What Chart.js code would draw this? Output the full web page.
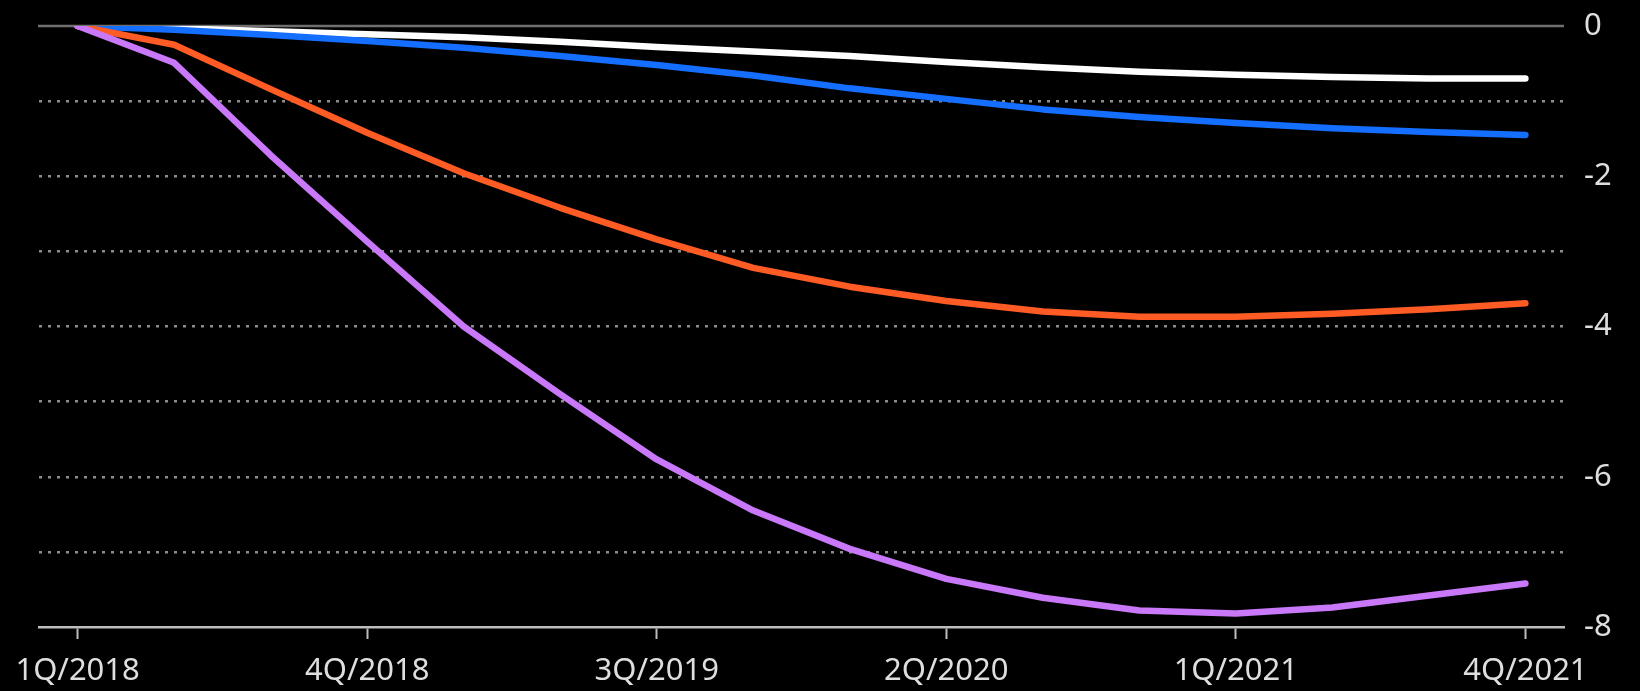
<!DOCTYPE html>
<html>
<head>
<meta charset="utf-8">
<script src="https://cdn.jsdelivr.net/npm/chart.js@4/dist/chart.umd.min.js"></script>
<style>
  html, body { margin: 0; padding: 0; background: #000; overflow: hidden; }
  #wrap { width: 1640px; height: 691px; }
</style>
</head>
<body>
<div id="wrap"><canvas id="c" width="1640" height="691"></canvas></div>
<script>
// Quarters on the horizontal axis
const quarters = [
  '1Q/2018', '2Q/2018', '3Q/2018', '4Q/2018',
  '1Q/2019', '2Q/2019', '3Q/2019', '4Q/2019',
  '1Q/2020', '2Q/2020', '3Q/2020', '4Q/2020',
  '1Q/2021', '2Q/2021', '3Q/2021', '4Q/2021'
];
// Quarters that get a tick label
const labelledQuarters = [0, 3, 6, 9, 12, 15];

// Cumulative change per series
const whiteSeries  = [0, -0.03, -0.07, -0.11, -0.15, -0.21, -0.28, -0.34, -0.40, -0.48, -0.55, -0.61, -0.65, -0.68, -0.70, -0.70];
const blueSeries   = [0, -0.05, -0.12, -0.20, -0.29, -0.40, -0.52, -0.66, -0.83, -0.97, -1.11, -1.21, -1.29, -1.36, -1.41, -1.45];
const orangeSeries = [0, -0.25, -0.84, -1.42, -1.96, -2.42, -2.84, -3.22, -3.47, -3.66, -3.80, -3.87, -3.87, -3.83, -3.77, -3.69];
const purpleSeries = [0, -0.49, -1.72, -2.87, -4.00, -4.90, -5.77, -6.45, -6.96, -7.36, -7.61, -7.78, -7.82, -7.74, -7.58, -7.42];

// Value axis
const yMin = -8, yMax = 0, yStep = 1;
const yLabelEvery = 2;

const FONT = "'Noto Sans', 'DejaVu Sans', sans-serif";
const TEXT = '#dedede';

const toPoints = arr => arr.map((v, i) => ({ x: i, y: v }));

function lineSet(data, color) {
  return {
    data: toPoints(data),
    borderColor: color,
    backgroundColor: color,
    borderWidth: 6.5,
    borderCapStyle: 'round',
    borderJoinStyle: 'round',
    pointRadius: 0,
    tension: 0,
    fill: false
  };
}

// Solid baseline at zero, drawn under the series
const zeroLine = {
  id: 'zeroLine',
  beforeDatasetsDraw(chart) {
    const { ctx, chartArea, scales } = chart;
    const y = scales.y.getPixelForValue(0);
    ctx.save();
    ctx.strokeStyle = '#6f6f6f';
    ctx.lineWidth = 2.5;
    ctx.beginPath();
    ctx.moveTo(chartArea.left - 1, y);
    ctx.lineTo(chartArea.right, y);
    ctx.stroke();
    ctx.restore();
  }
};

new Chart(document.getElementById('c'), {
  type: 'line',
  data: {
    datasets: [
      lineSet(purpleSeries, '#c878f8'),
      lineSet(orangeSeries, '#ff5b24'),
      lineSet(blueSeries, '#146eff'),
      lineSet(whiteSeries, '#ffffff')
    ]
  },
  options: {
    responsive: false,
    animation: false,
    devicePixelRatio: 1,
    layout: { padding: { left: 39, top: 26, right: 0, bottom: 0 } },
    plugins: { legend: { display: false }, tooltip: { enabled: false } },
    scales: {
      x: {
        type: 'linear',
        min: -0.4,
        max: quarters.length - 1 + 0.4,
        afterBuildTicks(scale) {
          scale.ticks = labelledQuarters.map(v => ({ value: v }));
        },
        afterFit(scale) { scale.height = 64; },
        ticks: {
          autoSkip: false,
          maxRotation: 0,
          padding: 14,
          color: TEXT,
          font: { family: FONT, size: 31 },
          callback: v => quarters[v]
        },
        grid: {
          drawOnChartArea: false,
          drawTicks: true,
          tickLength: 12,
          tickColor: '#bdbdbd',
          tickWidth: 2
        },
        border: { display: true, color: '#bdbdbd', width: 2.5 }
      },
      y: {
        position: 'right',
        min: yMin,
        max: yMax,
        afterFit(scale) {
          scale.width = 76;
          scale.paddingTop = 0;
          scale.paddingBottom = 0;
        },
        ticks: {
          stepSize: yStep,
          padding: 20,
          crossAlign: 'near',
          color: TEXT,
          font: { family: FONT, size: 31 },
          callback: v => (v % yLabelEvery === 0 ? String(v) : '')
        },
        grid: {
          drawTicks: false,
          lineWidth: 2.5,
          color: ctx => (ctx.tick && (ctx.tick.value === yMax || ctx.tick.value === yMin)) ? 'rgba(0,0,0,0)' : '#8c8c8c'
        },
        border: { display: false, dash: [3, 6] }
      }
    }
  },
  plugins: [zeroLine]
});
</script>
</body>
</html>
